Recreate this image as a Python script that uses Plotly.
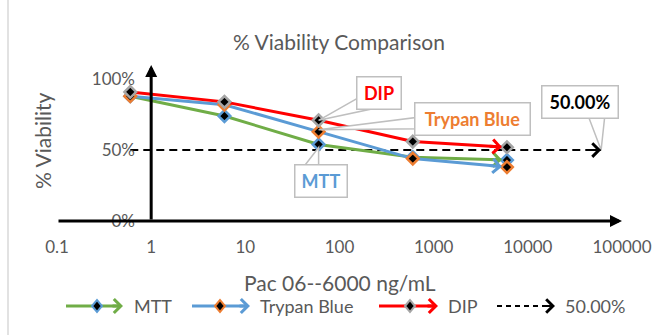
import numpy as np
import plotly.graph_objects as go

# ---------------- data ----------------
conc = [0.6, 6, 60, 600, 6000]
mtt = [0.88, 0.74, 0.54, 0.45, 0.43]
trypan = [0.88, 0.82, 0.63, 0.44, 0.38]
dip = [0.91, 0.84, 0.71, 0.56, 0.52]
ref_x = [0.6, 60000]
ref_y = [0.5, 0.5]
x_tickvals = [0.1, 1, 10, 100, 1000, 10000, 100000]
x_ticktext = ["0.1", "1", "10", "100", "1000", "10000", "100000"]
y_tickvals = [0, 0.5, 1.0]
y_ticktext = ["0%", "50%", "100%"]

# ---------------- styling ----------------
FONT = "Lato"
GRAY = "#595959"
GREEN = "#70AD47"
BLUE = "#5B9BD5"
ORANGE = "#ED7D31"
RED = "#FF0000"
MGRAY = "#A5A5A5"
BOX = "#BFBFBF"

W, H = 665, 335
L, R, T, B = 57, 43, 65, 114
PW, PH = W - L - R, H - T - B


def pxx(px):
    return (px - L) / PW


def pxy(py):
    return (H - B - py) / PH


fig = go.Figure()

series = [
    ("MTT", mtt, GREEN, BLUE),
    ("Trypan Blue", trypan, BLUE, ORANGE),
    ("DIP", dip, RED, MGRAY),
]

fig.add_trace(go.Scatter(x=ref_x, y=ref_y, mode="lines",
                         line=dict(color="black", width=2, dash="8px,5px"),
                         name="50.00%", cliponaxis=False))
for name, ys, lc, mc in series:
    fig.add_trace(go.Scatter(
        x=conc, y=ys, mode="lines+markers", name=name, cliponaxis=False,
        line=dict(color=lc, width=3),
        marker=dict(symbol="diamond", size=9, color="black",
                    line=dict(color=mc, width=2.5)),
    ))

annotations = []
shapes = []


def end_arrow(xs, ys, color, frac, width, size, standoff):
    lx = np.log10(xs)
    tx = lx[-2] + frac * (lx[-1] - lx[-2])
    ty = ys[-2] + frac * (ys[-1] - ys[-2])
    annotations.append(dict(
        x=lx[-1], y=ys[-1], ax=tx, ay=ty, xref="x", yref="y",
        axref="x", ayref="y", text="", showarrow=True, arrowhead=4,
        arrowsize=size, arrowwidth=width, arrowcolor=color, standoff=standoff))


end_arrow(conc, mtt, GREEN, 0.8, 3, 0.9, 5)
end_arrow(conc, trypan, BLUE, 0.8, 3, 0.9, 5)
end_arrow(conc, dip, RED, 0.8, 3, 0.9, 5)
end_arrow(ref_x, ref_y, "black", 0.975, 2, 1.3, 0)

# axis lines with arrows
annotations.append(dict(x=5, y=0, ax=-1, ay=0, xref="x", yref="y", axref="x", ayref="y",
                        text="", showarrow=True, arrowhead=2, arrowsize=0.8,
                        arrowwidth=3, arrowcolor="black"))
annotations.append(dict(x=0, y=1.1, ax=0, ay=0, xref="x", yref="y", axref="x", ayref="y",
                        text="", showarrow=True, arrowhead=2, arrowsize=0.8,
                        arrowwidth=3, arrowcolor="black"))

# callout labels
callouts = [
    ("DIP", conc[2], dip[2], RED, 60.5, 27.5, 39, "M0,0 L44,25 L61,13 Z"),
    ("Trypan Blue", conc[2], trypan[2], ORANGE, 154, 13, 110, "M0,2 L104,15 L104,3 Z"),
    ("MTT", conc[2], mtt[2], BLUE, 2.5, -36.5, 47, "M0,-3 L-17,-25 L0,-25 Z"),
    ("50.00%", ref_x[-1], ref_y[-1], "black", -21.5, 48.5, 71, "M0,0 L-14,37 L4,37 Z"),
]
for text, xv, yv, col, xs, ys_, wdt, path in callouts:
    shapes.append(dict(type="path", xref="x", yref="y", xsizemode="pixel",
                       ysizemode="pixel", xanchor=xv, yanchor=yv,
                       path=path, fillcolor="white", line=dict(color=BOX, width=1.5),
                       layer="above"))
    annotations.append(dict(x=np.log10(xv), y=yv, xref="x", yref="y", text="<b>%s</b>" % text,
                            showarrow=False, xshift=xs, yshift=ys_, width=wdt, height=27,
                            xanchor="center", yanchor="middle",
                            bgcolor="white", bordercolor=BOX, borderwidth=1.5, borderpad=2,
                            font=dict(family=FONT, size=18, color=col)))

# axis titles
annotations.append(dict(x=pxx(340), y=pxy(282), xref="paper", yref="paper",
                        xanchor="center", yanchor="middle",
                        text="Pac 06--6000 ng/mL", showarrow=False,
                        font=dict(family=FONT, size=21, color=GRAY)))
annotations.append(dict(x=pxx(42), y=pxy(141), xref="paper", yref="paper",
                        xanchor="center", yanchor="middle",
                        text="% Viability", showarrow=False, textangle=-90,
                        font=dict(family=FONT, size=21, color=GRAY)))

# manual legend
LEGY = 306
legend_items = [
    ("MTT", GREEN, BLUE, 66, 97, 123, 132, "solid"),
    ("Trypan Blue", BLUE, ORANGE, 192, 220, 250, 258, "solid"),
    ("DIP", RED, MGRAY, 379, 410, 438, 446, "solid"),
    ("50.00%", "black", None, 497, None, 555, 563, "dash"),
]
for text, lc, mc, x0, xm, xt, xtext, dash in legend_items:
    lw = 2 if dash == "dash" else 3
    shapes.append(dict(type="line", xref="paper", yref="paper",
                       x0=pxx(x0), x1=pxx(xt - 4), y0=pxy(LEGY), y1=pxy(LEGY),
                       line=dict(color=lc, width=lw, dash="5px,4px" if dash == "dash" else "solid")))
    annotations.append(dict(x=pxx(xt), y=pxy(LEGY), xref="paper", yref="paper",
                            ax=-12, ay=0, text="", showarrow=True, arrowhead=4,
                            arrowsize=1.3 if dash == "dash" else 0.9, arrowwidth=lw,
                            arrowcolor=lc))
    if mc is not None:
        shapes.append(dict(type="path", xref="paper", yref="paper", xsizemode="pixel",
                           ysizemode="pixel", xanchor=pxx(xm), yanchor=pxy(LEGY),
                           path="M-5,0 L0,6 L5,0 L0,-6 Z", fillcolor="black",
                           line=dict(color=mc, width=2)))
    annotations.append(dict(x=pxx(xtext), y=pxy(LEGY), xref="paper", yref="paper",
                            text=text, showarrow=False, xanchor="left", yanchor="middle",
                            font=dict(family=FONT, size=18, color=GRAY)))

# chart border at left
shapes.append(dict(type="line", xref="paper", yref="paper", x0=pxx(8), x1=pxx(8),
                   y0=pxy(H), y1=pxy(0), line=dict(color="#D9D9D9", width=1.5)))

fig.update_layout(
    width=W, height=H,
    margin=dict(l=L, r=R, t=T, b=B),
    paper_bgcolor="white", plot_bgcolor="white",
    showlegend=False,
    title=dict(text="% Viability Comparison", x=339 / W, xanchor="center",
               xref="container", y=1 - 43 / H, yref="container", yanchor="middle",
               font=dict(family=FONT, size=21, color=GRAY)),
    xaxis=dict(type="log", range=[-1, 5], tickvals=x_tickvals, ticktext=x_ticktext,
               showgrid=False, zeroline=False, showline=False, ticks="",
               ticklabelstandoff=14, tickfont=dict(family=FONT, size=17, color=GRAY)),
    yaxis=dict(range=[0, 1.1], tickvals=y_tickvals, ticktext=y_ticktext,
               showgrid=False, zeroline=False, showline=False, ticks="",
               anchor="free", position=pxx(151), ticklabelstandoff=16,
               tickfont=dict(family=FONT, size=17, color=GRAY)),
    annotations=annotations,
    shapes=shapes,
)

fig.write_html("out.html")
